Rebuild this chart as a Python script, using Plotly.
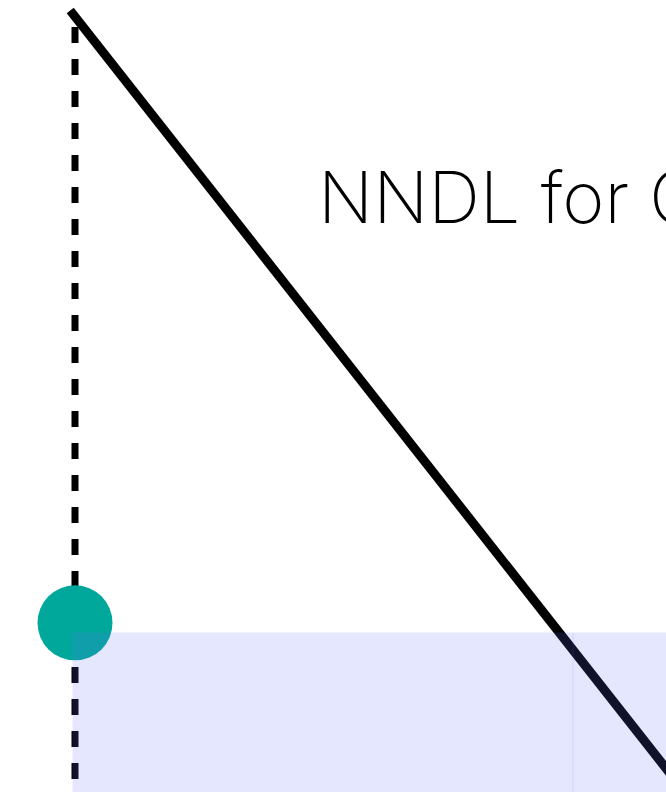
import plotly.graph_objects as go

# --- data (zoomed-in crop of a larger chart) ---
line_x = [-0.08, 10]
line_y = [10, 0]

guide_x = [0, 0]
guide_y = [9.785, -1]

point_x = [0]
point_y = [2.04]

band_edges = [-0.033, 8.3, 10.5]
band_top = 1.908
band_bottom = -1

title_text = "NNDL for C"

W, H = 666, 792

fig = go.Figure()

fig.add_trace(go.Scatter(x=guide_x, y=guide_y, mode="lines",
                         line=dict(color="black", width=7, dash="16px,16px")))
fig.add_trace(go.Scatter(x=line_x, y=line_y, mode="lines",
                         line=dict(color="black", width=9)))
fig.add_trace(go.Scatter(x=point_x, y=point_y, mode="markers",
                         marker=dict(color="#00a89c", size=75, line=dict(width=0))))

# translucent bands drawn on top of everything
for i in range(len(band_edges) - 1):
    x0, x1 = band_edges[i], band_edges[i + 1]
    fig.add_trace(go.Scatter(
        x=[x0, x1, x1, x0, x0],
        y=[band_bottom, band_bottom, band_top, band_top, band_bottom],
        mode="lines", fill="toself", fillcolor="#636efa",
        line=dict(color="#636efa", width=1), opacity=0.16))

fig.add_annotation(text=title_text, xref="paper", yref="paper",
                   x=316 / W, y=1 - 196 / H, xanchor="left", yanchor="middle",
                   showarrow=False,
                   font=dict(family="Inter", size=72, color="black", weight=200))

fig.update_layout(
    width=W, height=H,
    margin=dict(l=0, r=0, t=0, b=0),
    paper_bgcolor="white", plot_bgcolor="white",
    showlegend=False,
    xaxis=dict(range=[-1.25, 9.85], visible=False),
    yaxis=dict(range=[-0.1586, 10.1365], visible=False),
)

# drop the default body margin so the figure fills the window
fig.write_html("out.html", config={"displayModeBar": False},
               post_script="document.body.style.margin = '0';")
